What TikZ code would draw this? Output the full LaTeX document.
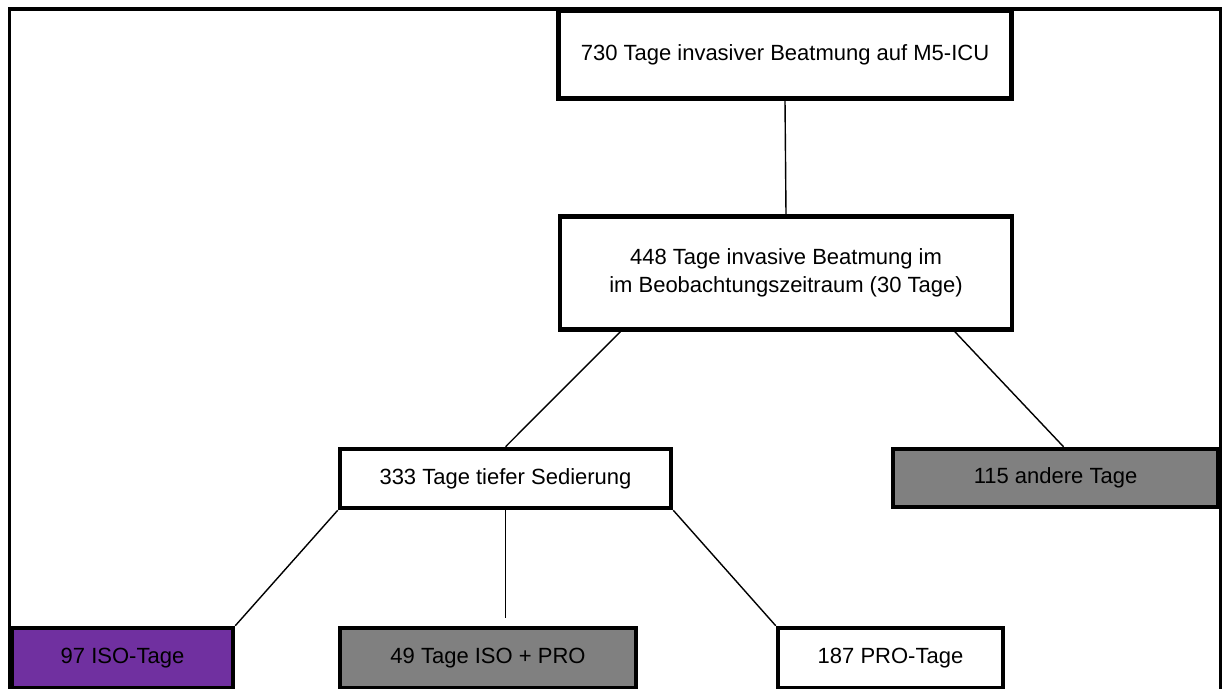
\documentclass[tikz,border=0pt]{standalone}
\usepackage{fontspec}
\setmainfont{Liberation Sans}
\usetikzlibrary{calc,positioning}
\definecolor{isopurple}{HTML}{7030A0}
\definecolor{boxgray}{HTML}{808080}

\begin{document}
\begin{tikzpicture}[x=1pt,y=-1pt,
    daybox/.style={draw=black,line width=4.5pt,inner sep=0pt,align=center,
      font=\fontsize{22}{28}\selectfont},
    link/.style={draw=black,line width=1.4pt}]
  \useasboundingbox (0,0) rectangle (1223,688);
  % Outer frame
  \draw[line width=3.5pt] (9.5,700) -- (9.5,9) -- (1220.5,9) -- (1220.5,700);

  % Boxes
  \node[daybox,fill=white,minimum width=453pt,minimum height=88pt] (icu) at (785,54.5) {730 Tage invasiver Beatmung auf M5-ICU};
  \node[daybox,fill=white,minimum width=452pt,minimum height=113pt] (obs) at (786,273) {448 Tage invasive Beatmung im\\im Beobachtungszeitraum (30 Tage)};
  \node[daybox,fill=white,minimum width=331pt,minimum height=59pt] (sed) at (505.5,478.5) {333 Tage tiefer Sedierung};
  \node[daybox,fill=boxgray,minimum width=325pt,minimum height=58pt] (other) at (1055.5,478) {115 andere Tage};
  \node[daybox,fill=isopurple,minimum width=221pt,minimum height=60pt] (iso) at (122.5,658) {97 ISO-Tage};
  \node[daybox,fill=boxgray,minimum width=296pt,minimum height=60pt] (both) at (488,658) {49 Tage ISO + PRO};
  \node[daybox,fill=white,minimum width=225pt,minimum height=60pt] (pro) at (890.5,658) {187 PRO-Tage};

  % Lines
  \draw[link] (icu.south) -- (obs.north);
  \draw[link] ($(obs.south west)!0.137!(obs.south east)$) -- (sed.north);
  \draw[link] ($(obs.south west)!0.87!(obs.south east)$) -- ($(other.north)+(8,0)$);
  \draw[link] (sed.south west) -- (iso.north east);
  \draw[link] (sed.south) -- ($(sed.south |- both.north)+(0,-8)$);
  \draw[link] (sed.south east) -- (pro.north west);
\end{tikzpicture}
\end{document}
